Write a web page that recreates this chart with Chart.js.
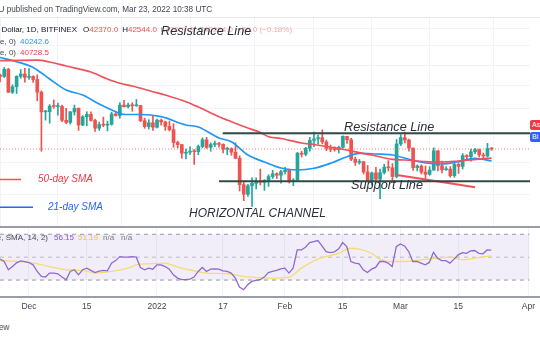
<!DOCTYPE html>
<html><head><meta charset="utf-8">
<script src="https://cdn.jsdelivr.net/npm/chart.js"></script>
<style>
html,body{margin:0;padding:0;background:#fff;}
#wrap{position:relative;width:540px;height:340px;overflow:hidden;background:#fff;font-family:"Liberation Sans",Arial,sans-serif;}
canvas{position:absolute;left:0;}
#main{top:17px;}
#rsi{top:227px;}
.t{position:absolute;white-space:nowrap;line-height:1;}
.ann{font-style:italic;color:#2a2e39;font-size:12.7px;}
.lg{font-size:8px;color:#131722;}
.sep{position:absolute;left:0;width:540px;}
.tag{position:absolute;left:530px;width:14px;height:10px;border-radius:2px 0 0 2px;color:#fff;font-size:7px;line-height:10px;padding-left:2px;box-sizing:border-box;}
</style></head><body>
<div id="wrap">
<canvas id="main" width="540" height="210"></canvas>
<canvas id="rsi" width="540" height="93"></canvas>
<div class="sep" style="top:17px;height:1px;background:#e6e9ef;"></div>
<div class="sep" style="top:226px;height:2px;background:#9a9da6;"></div>
<div class="sep" style="top:296px;height:2px;background:#9a9da6;"></div>

<div class="t" style="left:-1.5px;top:5.7px;font-size:8.2px;color:#434651;">U published on TradingView.com, Mar 23, 2022 10:38 UTC</div>

<div class="t lg" style="right:463px;top:25.7px;">Bitcoin / U.S. Dollar, 1D, BITFINEX</div>
<div class="t lg" style="left:83px;top:25.7px;">O<span style="color:#ef5350">42370.0</span><span style="margin-left:4px">H</span><span style="color:#ef5350">42544.0</span><span style="opacity:.5"><span style="margin-left:4px">L</span><span style="color:#ef5350">42057.0</span><span style="margin-left:4px">C</span><span style="color:#ef5350">42294.0</span><span style="color:#ef5350;margin-left:4px">−76.0 (−0.18%)</span></span></div>
<div class="t lg" style="right:524px;top:37.7px;color:#434651;">MA (21, close, 0)</div>
<div class="t lg" style="left:20px;top:37.7px;color:#2196f3;">40242.6</div>
<div class="t lg" style="right:524px;top:49.2px;color:#434651;">MA (50, close, 0)</div>
<div class="t lg" style="left:20px;top:49.2px;color:#f23645;">40728.5</div>

<div class="t lg" style="right:492px;top:234.2px;color:#434651;">RSI (close, SMA, 14, 2)</div>
<div class="t lg" style="left:54px;top:234.2px;color:#7e57c2;">56.15</div>
<div class="t lg" style="left:78px;top:234.2px;color:#e8c93a;">51.19</div>
<div class="t lg" style="left:103px;top:234.2px;color:#787b86;">n/a</div>
<div class="t lg" style="left:121px;top:234.2px;color:#787b86;">n/a</div>

<div class="t ann" style="left:161px;top:24.8px;">Resistance Line</div>
<div class="t ann" style="left:344px;top:120.8px;">Resistance Line</div>
<div class="t ann" style="left:351px;top:178.8px;">Support Line</div>
<div class="t ann" style="left:189px;top:207.1px;font-size:12px;">HORIZONTAL CHANNEL</div>
<div class="t ann" style="left:38px;top:174px;font-size:10px;color:#f23645;">50-day SMA</div>
<div class="t ann" style="left:48px;top:202.2px;font-size:10px;color:#2962ff;">21-day SMA</div>

<div class="tag" style="top:120px;background:#f23645;">As</div>
<div class="tag" style="top:132px;background:#2962ff;">Bi</div>

<div class="t" style="right:530.5px;top:322.8px;font-size:8.5px;color:#555;">TradingView</div>
</div>
<script>
// ---- data (daily, starting 24 Nov 2021 = day -7; day 0 = 1 Dec 2021) ----
const startDay = -7;
const opens = [57570,57200,58960,53570,54820,57250,57810,57000,57230,56510,53600,49370,49400,50580,50480,50500,47670,47240,49360,50100,46740,48380,48860,47630,46130,46830,46710,46880,48940,48630,50780,50430,50810,50640,50700,47590,46440,47180,46310,47690,47340,46460,45830,43450,43080,41560,41730,41910,41820,42740,43950,42590,43100,43180,43110,42250,42370,41740,40680,36460,35030,36280,36650,36950,36810,37140,37710,38150,37920,38480,38740,36950,37150,41570,41380,42410,43840,44120,44340,43560,42410,42240,42200,42590,44580,43960,40540,40000,40120,38430,37080,38290,37300,38330,39210,39110,37710,43190,44350,43920,42450,39140,39400,38420,38060,38740,41980,39440,38790,38900,37850,39670,39340,41140,40950,41800,42190,41250,41080,42370];
const highs = [57800,59400,59200,55300,57400,58900,59200,59100,57400,57600,53900,49700,50900,51900,51200,50800,50100,49500,50800,50200,48600,49400,49400,47900,47300,48300,47500,49300,49500,51300,51800,51200,51300,52000,50700,48100,47800,48500,47900,47900,47500,47500,47000,43700,43100,42300,42700,42200,43000,44300,44400,43400,43700,43500,43200,42600,42500,43400,41100,36800,36500,37500,37500,38900,37200,38000,38700,38300,38700,39200,38900,37400,41700,41900,42600,44400,45400,44800,45800,43900,43000,42700,42800,44700,44600,44200,40900,40500,40200,39500,38400,39200,38900,39700,40300,39800,44000,44900,45400,44100,42500,39600,39600,39400,39300,42500,42000,40200,39300,39300,39900,39900,41500,41300,42300,42400,42300,41600,43300,42544];
const lows = [55950,57000,53550,53300,53300,56800,55900,56500,55800,51700,41900,47700,47100,50100,48700,47400,47000,46900,48700,45700,46600,46600,47500,45500,45700,46400,45600,46700,48500,48100,50400,50200,49500,50500,47400,46100,45950,45700,46200,46700,45700,45600,42600,42500,40700,40600,41300,39650,41300,42500,42400,41900,42700,42600,41600,41300,41200,40600,35500,34100,34700,33300,35800,36400,35600,36200,37400,37400,36700,38100,36700,36300,37000,40900,41100,41900,42700,43200,43200,42000,41800,41900,41600,42450,43300,40300,39500,39700,38100,36900,36400,37100,34400,38100,38600,37100,37500,42900,43400,41900,38700,38600,38100,37200,37900,38700,38600,38300,38700,37600,37600,38200,38900,40500,40200,41500,40900,40500,40900,42057];
const closes = [57200,58960,53570,54820,57250,57810,57000,57230,56510,53600,49370,49400,50580,50480,50500,47670,47240,49360,50100,46740,48380,48860,47630,46130,46830,46710,46880,48940,48630,50780,50430,50810,50640,50700,47590,46440,47180,46310,47690,47340,46460,45830,43450,43080,41560,41730,41910,41820,42740,43950,42590,43100,43180,43110,42250,42370,41740,40680,36460,35030,36280,36650,36950,36810,37140,37710,38150,37920,38480,38740,36950,37150,41570,41380,42410,43840,44120,44340,43560,42410,42240,42200,42590,44580,43960,40540,40000,40120,38430,37080,38290,37300,38330,39210,39110,37710,43190,44350,43920,42450,39140,39400,38420,38060,38740,41980,39440,38790,38900,37850,39670,39340,41140,40950,41800,42190,41250,41080,42370,42294];
const lastPrice = 42294;

const sma21Days   = [-7,-3,1,5,9,13,17,21,23,27,32,38,41,46,49,53,57,61,65,69,73,77,80,84,88,92,96,100,104,108,112];
const sma21Values = [61923,60849,59394,56618,54081,52965,51015,49408,48833,48833,48388,46743,46355,44278,43600,41250,40065,39076,38750,39030,39850,40958,41545,41423,41250,40518,39901,39731,40116,40686,40243];
const sma50Days   = [-7,-2,2,5,9,15,19,22,25,30,33,38,41,46,49,53,56,58,61,66,69,75,80,83,88,91,96,100,104,107,112];
const sma50Values = [61102,61204,61230,60773,59772,58294,56618,55614,54991,53700,52965,51506,50381,48388,47391,46160,45306,44519,44185,43364,43094,42382,41646,41250,40518,40399,40116,40065,40231,40399,40729];

const resistanceLevel = 45150, supportLevel = 36980;
const resistanceFrom = 46.9, supportFrom = 46.0;
const trendDays = [89.1,108], trendValues = [37950,36056];
const legend50Days = [-7.02,-1.94], legend50Value = 37249;
const legend21Days = [-7.02,0.97], legend21Value = 33172;

const rsiValues = [48.3,46.2,39.0,41.8,45.0,46.8,46.2,45.3,43.3,37.5,33.1,32.6,36.1,36.1,35.5,32.6,30.3,37.5,39.0,34.6,39.0,40.4,38.4,36.6,37.9,38.4,38.0,44.8,47.0,50.5,50.0,50.0,50.5,50.0,41.0,39.0,40.4,39.5,43.3,43.3,41.8,39.5,34.6,31.7,30.3,30.3,30.8,32.6,37.5,41.0,37.5,39.5,39.8,39.5,38.0,37.5,36.1,31.7,23.9,21.6,25.9,28.8,29.7,30.3,32.6,36.6,37.5,38.4,39.8,40.4,36.1,40.4,56.3,56.3,58.7,62.7,63.6,64.5,59.8,54.9,54.0,54.6,57.0,62.7,59.2,46.2,44.8,44.2,39.0,36.6,39.5,41.0,46.2,46.2,44.8,41.8,59.2,61.6,59.8,54.9,46.2,46.2,44.8,43.3,45.4,54.3,49.1,47.0,47.0,44.8,48.3,52.0,54.0,53.4,55.5,55.8,53.4,52.9,56.3,56.15];
const rsiMaDays   = [-7,-3,1,5,9,13,16,20,24,26,29,33,34,37,40,43,48,51,54,58,63,66,70,75,78,80,83,85,87,91,95,99,102,105,108,112];
const rsiMaValues = [47,46.2,44.8,41.8,39,38.4,36.1,37.5,40.4,43.3,44.2,44.8,43.9,40.4,38.1,36.1,35.5,33.7,32.6,31.7,32.6,40.4,48.3,53.4,57.8,57,53.4,48.3,46.2,46.2,47.7,49.1,50,47.7,49.1,51.19];
const rsiLevels = [70,50,30];

const tickDays   = [0,14,31,47,62,76,90,104,121];
const tickLabels = ['Dec','15','2022','17','Feb','15','Mar','15','Apr'];
const gridPrices = [35000,40000,45000,50000,55000,60000,65000,70000];

// ---- view ----
const xMin = -7.02, xMax = 121.3;
const priceMin = 30558, priceMax = 73308;
const rsiMin = 15.2, rsiMax = 76.35;
const UP = '#26a69a', DOWN = '#ef5350', GRID = '#f0f3fa', TREND = '#344a44';
const days = closes.map((_, i) => startDay + i);
const colors = closes.map((c, i) => c >= opens[i] ? UP : DOWN);
const pts = (xs, ys) => xs.map((x, i) => ({x, y: Array.isArray(ys) ? ys[i] : ys}));

const xTicks = s => { s.ticks = tickDays.map(v => ({value: v})); };
const common = {
  responsive: false, maintainAspectRatio: false, animation: false, events: [],
  devicePixelRatio: 1,
  plugins: {legend: {display: false}, tooltip: {enabled: false}}
};
const lineBase = {type: 'line', pointRadius: 0, fill: false};

new Chart(document.getElementById('main'), {
  type: 'bar',
  data: {datasets: [
    {...lineBase, label: 'Resistance', data: pts([resistanceFrom, xMax], resistanceLevel), borderColor: TREND, borderWidth: 2, order: 0},
    {...lineBase, label: 'Support', data: pts([supportFrom, xMax], supportLevel), borderColor: TREND, borderWidth: 2, order: 0},
    {...lineBase, label: 'Trend', data: pts(trendDays, trendValues), borderColor: '#f0525a', borderWidth: 2, order: 0},
    {...lineBase, label: 'Key50', data: pts(legend50Days, legend50Value), borderColor: '#f0525a', borderWidth: 1.5, order: 0},
    {...lineBase, label: 'Key21', data: pts(legend21Days, legend21Value), borderColor: '#2962ff', borderWidth: 1.5, order: 0},
    {...lineBase, label: 'SMA 50', data: pts(sma50Days, sma50Values), borderColor: '#f0525a', borderWidth: 1.7, cubicInterpolationMode: 'monotone', order: 1},
    {...lineBase, label: 'SMA 21', data: pts(sma21Days, sma21Values), borderColor: '#2196f3', borderWidth: 1.7, cubicInterpolationMode: 'monotone', order: 2},
    {label: 'Body', data: days.map((d, i) => ({x: d, y: [opens[i], closes[i]]})), backgroundColor: colors, barThickness: 3, minBarLength: 1, grouped: false, order: 3},
    {label: 'Wick', data: days.map((d, i) => ({x: d, y: [lows[i], highs[i]]})), backgroundColor: colors, barThickness: 1, grouped: false, order: 4},
    {...lineBase, label: 'Last', data: pts([xMin, xMax], lastPrice), borderColor: 'rgba(239,83,80,0.75)', borderWidth: 1, borderDash: [1, 2], order: 5}
  ]},
  options: {...common,
    layout: {padding: {left: 0, right: 10, top: 0, bottom: 0}},
    scales: {
      x: {type: 'linear', min: xMin, max: xMax, offset: false,
          grid: {color: GRID, drawTicks: false}, border: {display: false},
          ticks: {display: false}, afterBuildTicks: xTicks, afterFit: s => { s.height = 0; }},
      y: {type: 'logarithmic', position: 'right', min: priceMin, max: priceMax,
          grid: {color: GRID, drawTicks: false}, border: {display: false},
          ticks: {display: false},
          afterBuildTicks: s => { s.ticks = gridPrices.map(v => ({value: v})); },
          afterFit: s => { s.width = 0; }}
    }
  }
});

new Chart(document.getElementById('rsi'), {
  type: 'line',
  data: {datasets: [
    {...lineBase, label: 'Upper', data: pts([xMin, xMax], rsiLevels[0]), borderColor: '#9598a1', borderWidth: 1, borderDash: [4, 4], order: 6},
    {...lineBase, label: 'Lower', data: pts([xMin, xMax], rsiLevels[2]), borderColor: '#9598a1', borderWidth: 1, borderDash: [4, 4], fill: '-1', backgroundColor: 'rgba(126,87,194,0.1)', order: 6},
    {...lineBase, label: 'Middle', data: pts([xMin, xMax], rsiLevels[1]), borderColor: 'rgba(149,152,161,0.6)', borderWidth: 1, borderDash: [4, 4], order: 5},
    {...lineBase, label: 'RSI MA', data: pts(rsiMaDays, rsiMaValues), borderColor: '#f3dd72', borderWidth: 1.3, cubicInterpolationMode: 'monotone', order: 1},
    {...lineBase, label: 'RSI', data: pts(days, rsiValues), borderColor: '#8e6ad0', borderWidth: 1.3, order: 0}
  ]},
  options: {...common,
    layout: {padding: {left: 0, right: 10, top: 0, bottom: 0}},
    scales: {
      x: {type: 'linear', min: xMin, max: xMax, offset: false,
          grid: {color: GRID, drawTicks: false}, border: {display: false},
          afterBuildTicks: xTicks, afterFit: s => { s.height = 23; },
          ticks: {autoSkip: false, maxRotation: 0, padding: 5, color: '#434651',
                  font: {family: '"Liberation Sans", Arial, sans-serif', size: 8.5},
                  callback: v => { const i = tickDays.indexOf(v); return i >= 0 ? tickLabels[i] : ''; }}},
      y: {type: 'linear', position: 'right', min: rsiMin, max: rsiMax,
          grid: {display: false}, border: {display: false},
          ticks: {display: false}, afterFit: s => { s.width = 0; }}
    }
  }
});
</script>
</body></html>
